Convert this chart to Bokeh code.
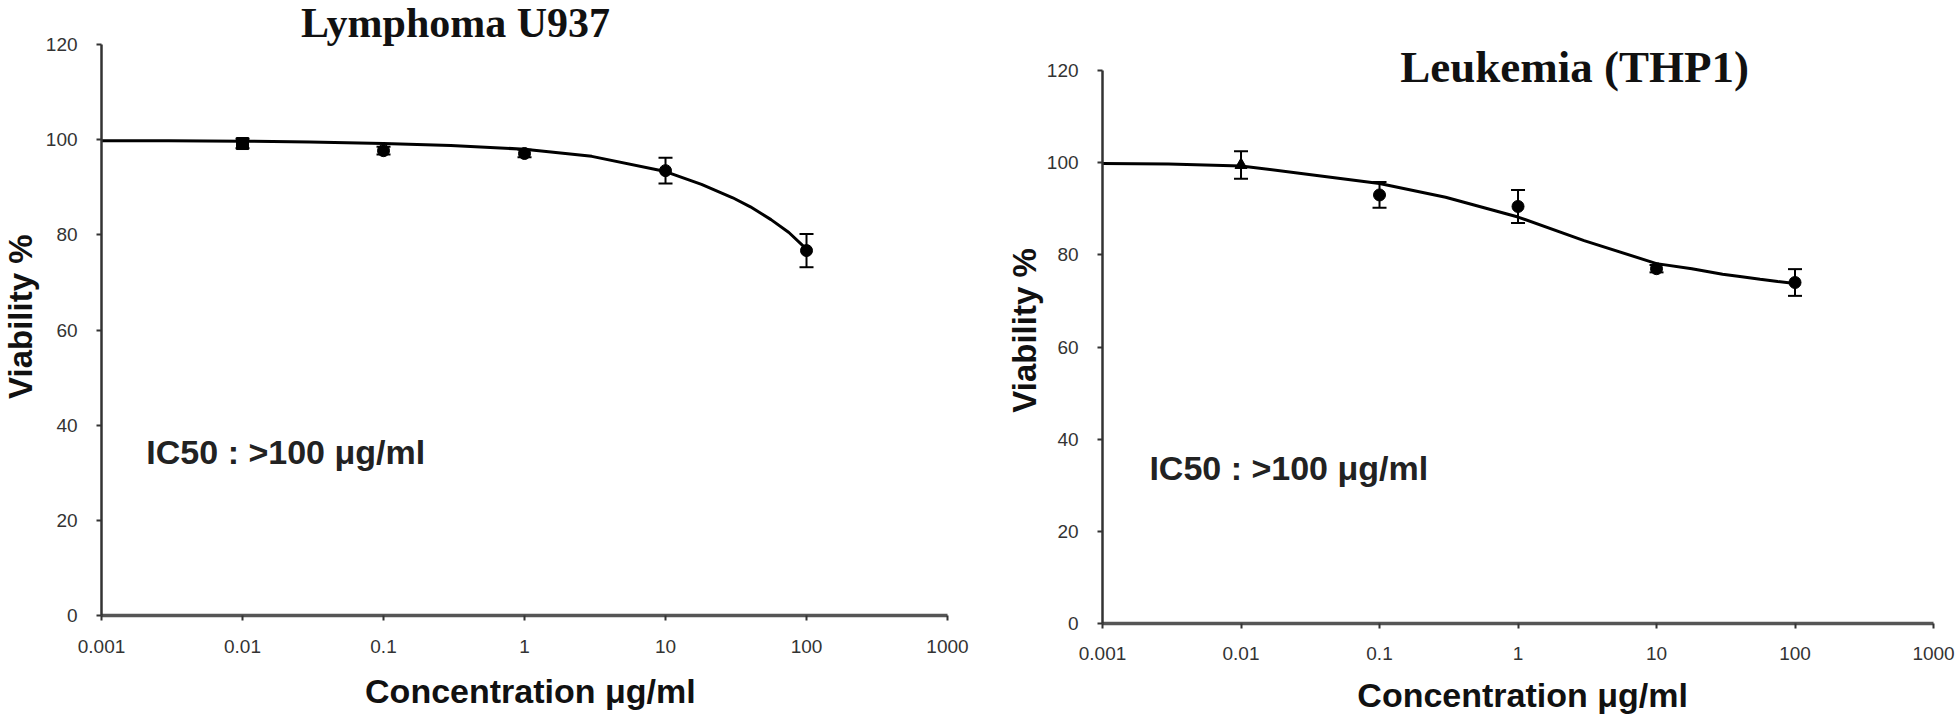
import math
from bokeh.plotting import figure
from bokeh.layouts import row
from bokeh.models import (ColumnDataSource, FixedTicker, CustomJSTickFormatter,
                          Whisker, TeeHead, Label)
from bokeh.embed import file_html
from bokeh.resources import INLINE

# ---------------- data ----------------
conc = [0.01, 0.1, 1, 10, 100]
u937_viability = [99.2, 97.7, 97.1, 93.5, 76.7]
u937_err = [1.0, 0.8, 0.8, 2.7, 3.5]
thp1_viability = [99.5, 93.0, 90.5, 77.0, 74.0]
thp1_err = [3.0, 2.8, 3.6, 0.8, 2.9]

fit_conc = [0.001, 0.003, 0.01, 0.03, 0.1, 0.3, 1, 3, 10, 18, 30, 40, 56, 75, 100]
u937_fit = [99.8, 99.8, 99.7, 99.5, 99.2, 98.8, 98.0, 96.5, 93.3, 90.6, 87.8, 85.9,
            83.2, 80.5, 77.0]
thp1_fit = [99.8, 99.7, 99.3, 97.5, 95.5, 92.5, 88.2, 83.1, 78.1, 77.0, 75.8, 75.3,
            74.7, 74.2, 73.8]

x_ticks = [0.001, 0.01, 0.1, 1, 10, 100, 1000]
y_ticks = [0, 20, 40, 60, 80, 100, 120]

titles = ["Lymphoma U937", "Leukemia (THP1)"]
x_label = "Concentration \u03bcg/ml"
y_label = "Viability %"
ic50_text = "IC50 : >100 \u03bcg/ml"

SANS = "Liberation Sans"
SERIF = "Liberation Serif"


def panel(width, height, x_rng, y_rng, vals, errs, fit, title, title_pos,
          title_size, ic50_pos, xlab_pos, ylab_pos, x_standoff, first_marker):
    p = figure(width=width, height=height, x_axis_type="log",
               x_range=x_rng, y_range=y_rng, title=None,
               output_backend="svg", toolbar_location=None,
               min_border_left=0, min_border_right=0,
               min_border_top=0, min_border_bottom=0)
    p.outline_line_color = None
    p.xgrid.visible = False
    p.ygrid.visible = False
    p.background_fill_color = "white"
    p.border_fill_color = "white"

    p.xaxis.ticker = FixedTicker(ticks=x_ticks)
    p.xaxis.formatter = CustomJSTickFormatter(code="return String(Number(tick.toPrecision(6)));")
    p.yaxis.ticker = FixedTicker(ticks=y_ticks)
    p.xaxis.fixed_location = 0
    p.yaxis.fixed_location = 0.001
    p.xaxis.bounds = (0.001, 1000)
    p.yaxis.bounds = (0, 120)
    for ax in (p.xaxis, p.yaxis):
        ax.major_label_text_font = SANS
        ax.major_label_text_font_size = "19px"
        ax.major_label_text_color = "#333333"
        ax.major_tick_in = 0
        ax.major_tick_out = 5
        ax.major_tick_line_width = 2
        ax.major_tick_line_color = "#333333"
        ax.minor_tick_line_color = None
    p.yaxis.axis_line_width = 2.5
    p.yaxis.axis_line_color = "#333333"
    p.xaxis.axis_line_width = 3.5
    p.xaxis.axis_line_color = "#555555"
    p.yaxis.major_label_standoff = 19
    p.xaxis.major_label_standoff = x_standoff

    # fitted curve
    p.line(fit_conc, fit, line_color="black", line_width=3)

    # error bars
    src = ColumnDataSource(dict(x=conc, y=vals,
                                lo=[v - e for v, e in zip(vals, errs)],
                                hi=[v + e for v, e in zip(vals, errs)],
                                m=[first_marker] + ["circle"] * (len(conc) - 1)))
    w = Whisker(source=src, base="x", lower="lo", upper="hi", dimension="height",
                line_color="black", line_width=2,
                lower_head=TeeHead(size=14, line_color="black", line_width=2),
                upper_head=TeeHead(size=14, line_color="black", line_width=2))
    p.add_layout(w)
    p.scatter("x", "y", source=src, marker="m", size=12,
              fill_color="black", line_color="black")

    # texts
    p.add_layout(Label(x=title_pos[0], y=title_pos[1], text=title,
                       text_font=SERIF, text_font_style="bold",
                       text_font_size=title_size, text_color="#111111",
                       text_align="center", text_baseline="alphabetic"))
    p.add_layout(Label(x=ic50_pos[0], y=ic50_pos[1], text=ic50_text,
                       text_font=SANS, text_font_style="bold",
                       text_font_size="34px", text_color="#222222",
                       text_align="left", text_baseline="alphabetic"))
    p.add_layout(Label(x=xlab_pos[0], y=xlab_pos[1], text=x_label,
                       text_font=SANS, text_font_style="bold",
                       text_font_size="34px", text_color="#111111",
                       text_align="center", text_baseline="alphabetic"))
    p.add_layout(Label(x=ylab_pos[0], y=ylab_pos[1], text=y_label,
                       text_font=SANS, text_font_style="bold",
                       text_font_size="33px", text_color="#111111",
                       angle=math.pi / 2,
                       text_align="center", text_baseline="middle"))
    return p


p1 = panel(1000, 718, (1.921e-4, 2376), (-21.65, 129.26),
           u937_viability, u937_err, u937_fit,
           titles[0], (0.324, 124.5), "42px",
           (0.00208, 34.26), (1.10, -15.97), (2.67e-4, 62.8), 20, "square")
p2 = panel(958, 718, (1.834e-4, 1515), (-20.62, 135.20),
           thp1_viability, thp1_err, thp1_fit,
           titles[1], (2.56, 120.66), "45px",
           (0.00218, 33.85), (1.08, -15.62), (2.73e-4, 63.6), 19, "triangle")

layout = row(p1, p2)
open("out.html", "w").write(file_html(layout, INLINE))
